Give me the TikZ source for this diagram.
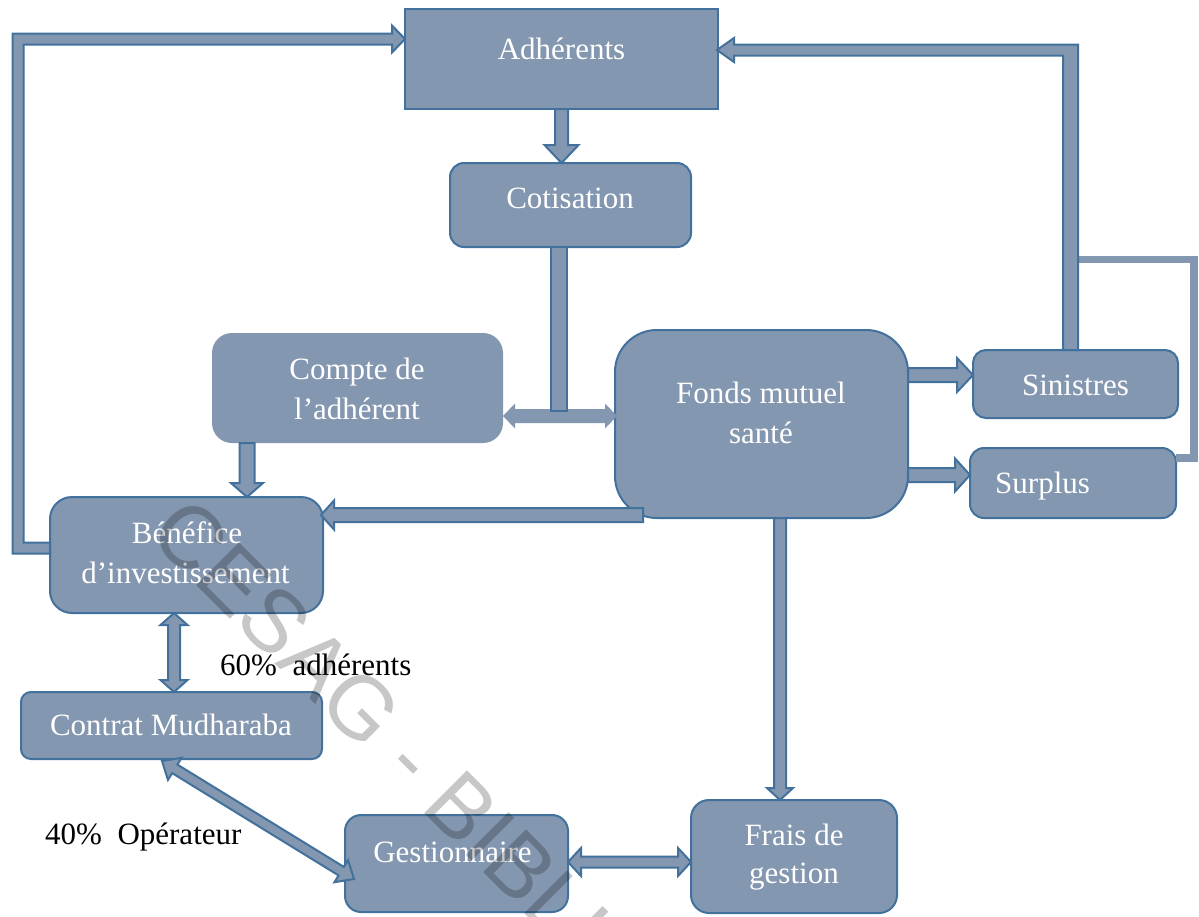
\documentclass[tikz,border=0pt]{standalone}
\usepackage{fontspec}
\setmainfont{Liberation Serif}
\newfontfamily\wmfont{Liberation Sans}
\usetikzlibrary{calc}
\definecolor{fc}{RGB}{132,151,176}
\definecolor{bd}{RGB}{65,113,156}
\tikzset{
  box/.style={draw=bd, fill=fc, line width=2pt, rounded corners=#1, inner sep=0pt, outer sep=0pt},
  arr/.style={draw=bd, fill=fc, line width=2pt, line join=miter},
  wtxt/.style={text=white, font=\fontsize{31}{37}\selectfont, inner sep=0pt, anchor=base},
  btxt/.style={text=black, font=\fontsize{31}{37}\selectfont, inner sep=0pt, anchor=base west},
}
% single block arrow: [opts]{start}{tip}{shaft half}{head half}{head length}
\newcommand\sarrow[6][]{%
  \coordinate (hb) at ($(#3)!#6!(#2)$);
  \draw[arr,#1] ($(#2)!#4!90:(#3)$) -- ($(hb)!#4!90:(#3)$) -- ($(hb)!#5!90:(#3)$) -- (#3)
    -- ($(hb)!#5!-90:(#3)$) -- ($(hb)!#4!-90:(#3)$) -- ($(#2)!#4!-90:(#3)$) -- cycle;}
% double block arrow: [opts]{tip a}{tip b}{shaft half}{head half}{head length}
\newcommand\darrow[6][]{%
  \coordinate (ha) at ($(#2)!#6!(#3)$);
  \coordinate (hc) at ($(#3)!#6!(#2)$);
  \draw[arr,#1] (#2) -- ($(ha)!#5!90:(#3)$) -- ($(ha)!#4!90:(#3)$) -- ($(hc)!#4!-90:(#2)$)
    -- ($(hc)!#5!-90:(#2)$) -- (#3) -- ($(hc)!#5!90:(#2)$) -- ($(hc)!#4!90:(#2)$)
    -- ($(ha)!#4!-90:(#3)$) -- ($(ha)!#5!-90:(#3)$) -- cycle;}
\begin{document}
\begin{tikzpicture}[x=1pt,y=-1pt]
\useasboundingbox[fill=white] (0,0) rectangle (1199,916);

% boxes
\node[box=0pt, minimum width=313pt, minimum height=100pt] (adh) at (561.5,59) {};
\node[box=14pt, minimum width=241pt, minimum height=84pt] (cot) at (570.5,205) {};
\node[box=20pt, draw=none, minimum width=291pt, minimum height=110pt] (cpt) at (357.5,388) {};
\node[box=42pt, minimum width=293pt, minimum height=188pt] (fonds) at (761.5,424) {};
\node[box=13pt, minimum width=205pt, minimum height=68pt] (sin) at (1075.5,384) {};
\node[box=14pt, minimum width=206pt, minimum height=70pt] (sur) at (1073,483) {};
\node[box=22pt, minimum width=273pt, minimum height=116pt] (ben) at (186.5,555) {};
\node[box=10pt, minimum width=301pt, minimum height=67pt] (con) at (171.5,725.5) {};
\node[box=16pt, minimum width=223pt, minimum height=97pt] (ges) at (456.5,863.5) {};
\node[box=18pt, minimum width=206pt, minimum height=113pt] (fra) at (794,856.5) {};

% box texts
\node[wtxt] (adh-t) at (561.5,59) {Adhérents};
\node[wtxt] (cot-t) at (570,208) {Cotisation};
\node[wtxt] (cpt-t1) at (357,379) {Compte de};
\node[wtxt] (cpt-t2) at (357,419) {l’adhérent};
\node[wtxt] (fonds-t1) at (761,403) {Fonds mutuel};
\node[wtxt] (fonds-t2) at (761,443) {santé};
\node[wtxt] (sin-t) at (1075.5,395) {Sinistres};
\node[wtxt, anchor=base west] (sur-t) at (995,493) {Surplus};
\node[wtxt] (ben-t1) at (187,543) {Bénéfice};
\node[wtxt] (ben-t2) at (185.5,583) {d’investissement};
\node[wtxt] (con-t) at (171,735) {Contrat Mudharaba};
\node[wtxt] (ges-t) at (452.5,862) {Gestionnaire};
\node[wtxt] (fra-t1) at (794,845) {Frais de};
\node[wtxt] (fra-t2) at (794,883) {gestion};

% free labels
\node[btxt] (l60) at (220,675) {60\%\ \ adhérents};
\node[btxt] (l40) at (45,844) {40\%\ \ Opérateur};

% Adhérents -> Cotisation
\coordinate (t1) at (adh.south |- cot.north);
\sarrow{adh.south}{t1}{6.5pt}{17pt}{18pt}

% Compte <-> Fonds (fill only)
\coordinate (d3a) at ($(cpt.east)+(0,28)$);
\coordinate (d3b) at ($(fonds.west)+(2,-8)$);
\darrow[draw=none]{d3a}{d3b}{7pt}{12.5pt}{12pt}

% Cotisation feeding down
\draw[arr] ($(cot.south)+(-19.5,0)$) rectangle ($(cot.south)+(-3.5,164)$);

% Compte -> Bénéfice
\coordinate (a4) at ($(cpt.south)+(-110.5,0)$);
\coordinate (b4) at (a4 |- ben.north);
\sarrow{a4}{b4}{7.5pt}{16pt}{14pt}

% Fonds -> Bénéfice
\coordinate (a5) at ($(fonds.south west)+(28,-3)$);
\coordinate (b5) at ($(ben.east)+(-2,-40)$);
\sarrow{a5}{b5}{7pt}{14.5pt}{13pt}

% Fonds -> Sinistres, Fonds -> Surplus
\coordinate (a6) at ($(fonds.east)+(0,-49)$);
\coordinate (b6) at (sin.west |- a6);
\sarrow{a6}{b6}{7pt}{17pt}{16pt}
\coordinate (a7) at ($(fonds.east)+(0,51)$);
\coordinate (b7) at (sur.west |- a7);
\sarrow{a7}{b7}{7pt}{16.5pt}{15pt}

% Fonds -> Frais de gestion
\coordinate (a8) at ($(fonds.south)+(18.5,0)$);
\coordinate (b8) at (a8 |- fra.north);
\sarrow{a8}{b8}{6pt}{13pt}{12pt}

% Bénéfice <-> Contrat
\coordinate (d9a) at ($(ben.south)+(-12.5,0)$);
\coordinate (d9b) at (d9a |- con.north);
\darrow{d9a}{d9b}{6pt}{13.5pt}{12pt}

% Contrat <-> Gestionnaire
\coordinate (d10a) at ($(con.south)+(-9.5,2)$);
\coordinate (d10b) at ($(ges.west)+(9,15.5)$);
\darrow{d10a}{d10b}{5pt}{13pt}{15pt}

% Gestionnaire <-> Frais
\coordinate (d11a) at ($(ges.east)+(0,-1.5)$);
\coordinate (d11b) at (fra.west |- d11a);
\darrow{d11a}{d11b}{5.5pt}{14pt}{13pt}

% loop from Bénéfice back to Adhérents
\coordinate (lp1) at ($(ben.west)+(0,-7)$);
\coordinate (lp2) at ($(adh.west)+(0,-20)$);
\coordinate (lpx) at (18,0);
\coordinate (lc1) at (lpx |- lp1);
\coordinate (lc2) at (lpx |- lp2);
\draw[arr] ($(lp1)+(0,-5.5)$) -- ($(lc1)+(5.5,-5.5)$) -- ($(lc2)+(5.5,5.5)$) -- ($(lp2)+(-13,5.5)$)
  -- ($(lp2)+(-13,13.5)$) -- (lp2) -- ($(lp2)+(-13,-13.5)$) -- ($(lp2)+(-13,-5.5)$)
  -- ($(lc2)+(-5.5,-5.5)$) -- ($(lc1)+(-5.5,5.5)$) -- ($(lp1)+(0,5.5)$) -- cycle;

% bracket joining Surplus to the return line
\coordinate (bk1) at (1078,259.5);
\coordinate (bk2) at (1194,259.5);
\coordinate (bk3) at (1194,458);
\draw[fc, line width=7.5pt, line join=miter] (bk1) -- (bk2) -- (bk3) -- (sur.east |- bk3);

% loop from Sinistres back to Adhérents
\coordinate (rp1) at ($(sin.north)+(-5,0)$);
\coordinate (rp2) at ($(adh.east)+(-1,-9)$);
\coordinate (rc) at (rp1 |- rp2);
\draw[arr] ($(rp1)+(-7.5,0)$) -- ($(rc)+(-7.5,5.5)$) -- ($(rp2)+(17,5.5)$) -- ($(rp2)+(17,12)$)
  -- (rp2) -- ($(rp2)+(17,-12)$) -- ($(rp2)+(17,-5.5)$) -- ($(rc)+(7.5,-5.5)$)
  -- ($(rp1)+(7.5,0)$) -- cycle;

% watermark
\begin{scope}
  \clip (0,0) rectangle (1199,916);
  \node[anchor=base west, rotate=-45, inner sep=0pt, text=black, text opacity=0.22,
        font=\wmfont\fontsize{88}{88}\selectfont] (wm) at (146,535) {CESAG - BIBLIOTHEQUE};
\end{scope}
\end{tikzpicture}
\end{document}
